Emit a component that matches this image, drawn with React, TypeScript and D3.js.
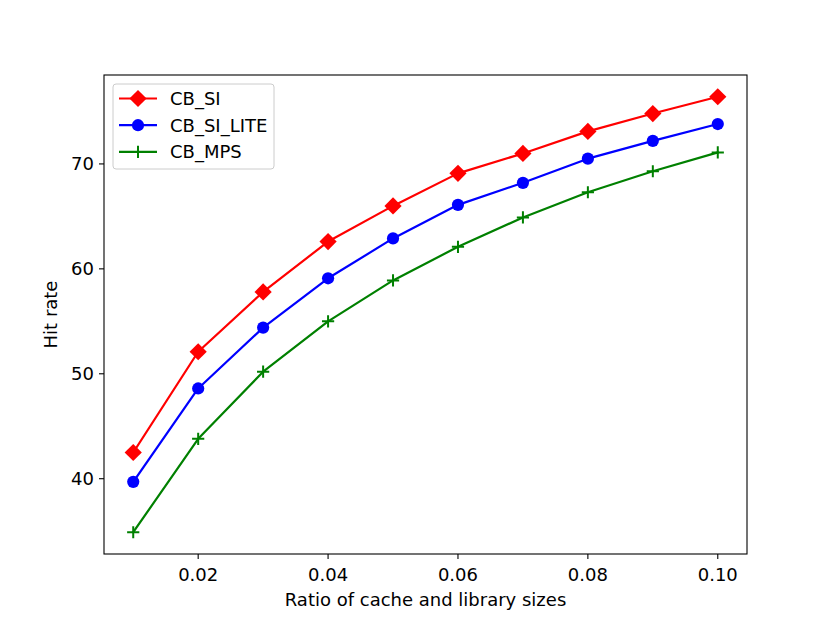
import React, { useRef, useEffect } from 'react';
import * as d3 from 'd3';

// Ratio of cache and library sizes
const ratios = [0.01, 0.02, 0.03, 0.04, 0.05, 0.06, 0.07, 0.08, 0.09, 0.1];
const cbSi = [42.5, 52.1, 57.8, 62.6, 66.0, 69.1, 71.0, 73.1, 74.8, 76.4];
const cbSiLite = [39.7, 48.6, 54.4, 59.1, 62.9, 66.1, 68.2, 70.5, 72.2, 73.8];
const cbMps = [34.9, 43.8, 50.2, 55.0, 58.9, 62.1, 64.9, 67.3, 69.3, 71.1];
const xTicks = [0.02, 0.04, 0.06, 0.08, 0.1];
const yTicks = [40, 50, 60, 70];

const seriesList = [
  { name: 'CB_SI', values: cbSi, color: '#ff0000', marker: 'diamond' },
  { name: 'CB_SI_LITE', values: cbSiLite, color: '#0000ff', marker: 'circle' },
  { name: 'CB_MPS', values: cbMps, color: '#008000', marker: 'plus' },
];

const W = 830;
const H = 623;
const FONT = 'DejaVu Sans, sans-serif';
const FS = 18;

const App: React.FC = () => {
  const svgRef = useRef<SVGSVGElement | null>(null);

  useEffect(() => {
    if (!svgRef.current) return;
    const svg = d3.select(svgRef.current);
    svg.selectAll('*').remove();

    const margin = { top: 75, right: 83, bottom: 69, left: 104 };
    const innerW = W - margin.left - margin.right;
    const innerH = H - margin.top - margin.bottom;

    const allY = seriesList.flatMap(s => s.values);
    const yMin = d3.min(allY) ?? 0;
    const yMax = d3.max(allY) ?? 1;
    const yPad = (yMax - yMin) * 0.05;
    const xPad = (0.1 - 0.01) * 0.05;

    const x = d3.scaleLinear().domain([0.01 - xPad, 0.1 + xPad]).range([0, innerW]);
    const y = d3.scaleLinear().domain([yMin - yPad, yMax + yPad]).range([innerH, 0]);

    svg.append('rect').attr('width', W).attr('height', H).attr('fill', '#fff');

    const g = svg.append('g').attr('transform', `translate(${margin.left},${margin.top})`);

    const drawMarker = (sel: any, marker: string, color: string) => {
      if (marker === 'diamond') {
        const r = 8.6;
        sel.append('path')
          .attr('d', `M0,${-r}L${r},0L0,${r}L${-r},0Z`)
          .attr('fill', color);
      } else if (marker === 'circle') {
        sel.append('circle').attr('r', 6.1).attr('fill', color);
      } else {
        const r = 6.1;
        sel.append('path')
          .attr('d', `M${-r},0H${r}M0,${-r}V${r}`)
          .attr('stroke', color)
          .attr('stroke-width', 2)
          .attr('fill', 'none');
      }
    };

    const line = d3.line<number>()
      .x((_, i) => x(ratios[i]))
      .y(d => y(d));

    seriesList.forEach(s => {
      g.append('path')
        .datum(s.values)
        .attr('d', line)
        .attr('fill', 'none')
        .attr('stroke', s.color)
        .attr('stroke-width', 2.2)
        .attr('stroke-linejoin', 'round')
        .attr('stroke-linecap', 'square');
      s.values.forEach((v, i) => {
        const m = g.append('g').attr('transform', `translate(${x(ratios[i])},${y(v)})`);
        drawMarker(m, s.marker, s.color);
      });
    });

    // axes frame
    g.append('rect')
      .attr('width', innerW)
      .attr('height', innerH)
      .attr('fill', 'none')
      .attr('stroke', '#000')
      .attr('stroke-width', 1.1);

    const xAxis = g.append('g').attr('transform', `translate(0,${innerH})`);
    xTicks.forEach(t => {
      xAxis.append('line').attr('x1', x(t)).attr('x2', x(t)).attr('y1', 0).attr('y2', 5)
        .attr('stroke', '#000').attr('stroke-width', 1.1);
      xAxis.append('text').attr('x', x(t)).attr('y', 27)
        .attr('text-anchor', 'middle').attr('font-family', FONT).attr('font-size', FS)
        .text(d3.format('.2f')(t));
    });

    const yAxis = g.append('g');
    yTicks.forEach(t => {
      yAxis.append('line').attr('x1', 0).attr('x2', -5).attr('y1', y(t)).attr('y2', y(t))
        .attr('stroke', '#000').attr('stroke-width', 1.1);
      yAxis.append('text').attr('x', -10).attr('y', y(t)).attr('dy', '0.36em')
        .attr('text-anchor', 'end').attr('font-family', FONT).attr('font-size', FS)
        .text(String(t));
    });

    svg.append('text')
      .attr('x', margin.left + innerW / 2).attr('y', 606)
      .attr('text-anchor', 'middle').attr('font-family', FONT).attr('font-size', FS)
      .text('Ratio of cache and library sizes');

    svg.append('text')
      .attr('transform', `translate(57,${margin.top + innerH / 2}) rotate(-90)`)
      .attr('text-anchor', 'middle').attr('font-family', FONT).attr('font-size', FS)
      .text('Hit rate');

    // legend
    const lg = svg.append('g').attr('transform', 'translate(113,84)');
    lg.append('rect')
      .attr('width', 161).attr('height', 85).attr('rx', 3)
      .attr('fill', '#fff').attr('fill-opacity', 0.8)
      .attr('stroke', '#ccc').attr('stroke-width', 1);
    seriesList.forEach((s, i) => {
      const cy = 14.5 + i * 26.7;
      lg.append('line').attr('x1', 6).attr('x2', 44).attr('y1', cy).attr('y2', cy)
        .attr('stroke', s.color).attr('stroke-width', 2.2);
      const m = lg.append('g').attr('transform', `translate(25,${cy})`);
      drawMarker(m, s.marker, s.color);
      lg.append('text').attr('x', 57).attr('y', cy).attr('dy', '0.36em')
        .attr('font-family', FONT).attr('font-size', FS)
        .text(s.name);
    });
  }, []);

  return <svg ref={svgRef} width={W} height={H} style={{ display: 'block', margin: -8 }} />;
};

export default App;
